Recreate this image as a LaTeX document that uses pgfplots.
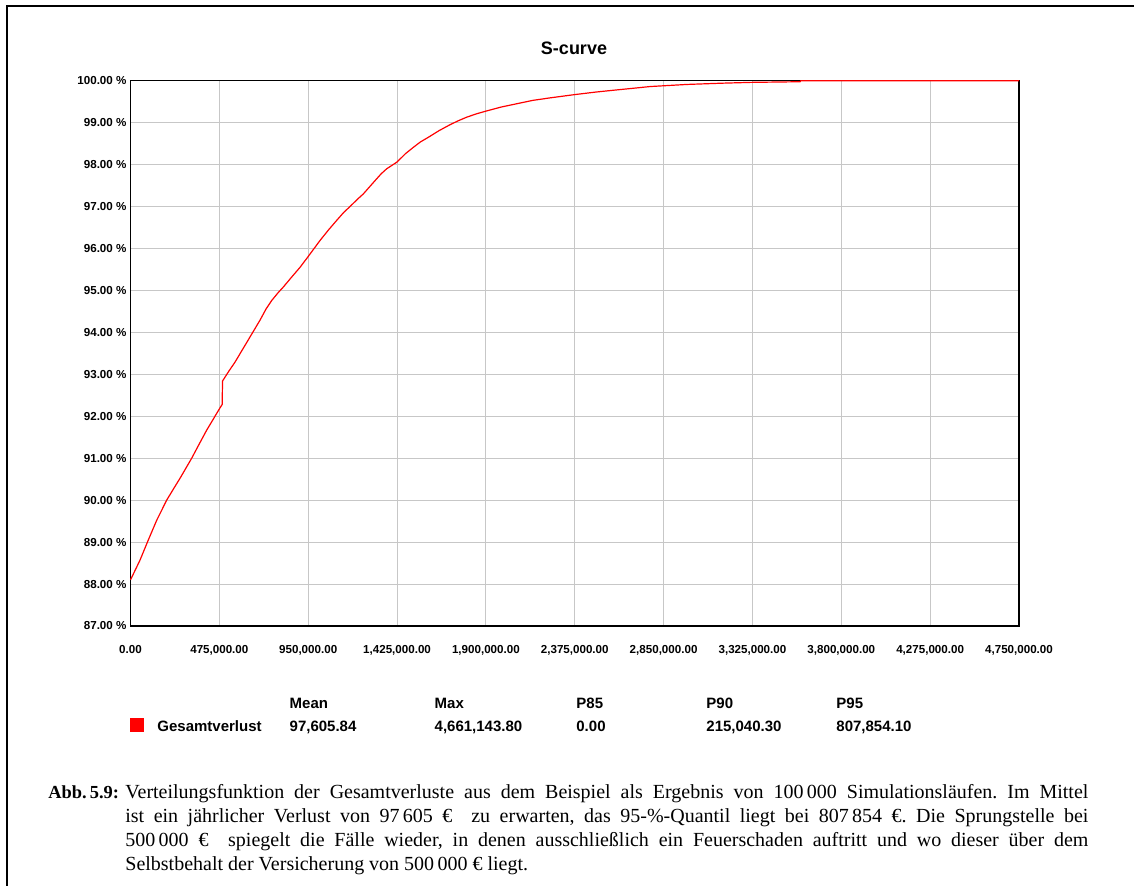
\documentclass[border=0pt]{standalone}
\usepackage{fontspec}
\setmainfont{Liberation Serif}
\newfontfamily\arial{Liberation Sans}
\usepackage{pgfplots}
\pgfplotsset{compat=1.18}
\begin{document}
\begin{tikzpicture}[x=1pt,y=1pt]
\path[use as bounding box] (0,0) rectangle (567,443);
\draw[line width=0.6pt] (3.5,0) -- (3.5,440) -- (567,440);
\begin{axis}[
  at={(65.25pt,130pt)}, anchor=south west,
  scale only axis, width=444.25pt, height=272.65pt,
  xmin=0, xmax=4750000, ymin=87, ymax=100,
  xtick={0,475000,950000,1425000,1900000,2375000,2850000,3325000,3800000,4275000,4750000},
  xticklabels={{0.00},{475,000.00},{950,000.00},{1,425,000.00},{1,900,000.00},{2,375,000.00},{2,850,000.00},{3,325,000.00},{3,800,000.00},{4,275,000.00},{4,750,000.00}},
  ytick={87,88,89,90,91,92,93,94,95,96,97,98,99,100},
  yticklabels={{87.00 \%},{88.00 \%},{89.00 \%},{90.00 \%},{91.00 \%},{92.00 \%},{93.00 \%},{94.00 \%},{95.00 \%},{96.00 \%},{97.00 \%},{98.00 \%},{99.00 \%},{100.00 \%}},
  grid=major, major grid style={draw=black!22, line width=0.5pt},
  major tick length=0pt,
  axis line style={line width=0.7pt},
  tick label style={font=\arial\bfseries\fontsize{5.8}{7}\selectfont},
  xticklabel style={yshift=-6pt},
  yticklabel style={xshift=1.5pt},
  scaled ticks=false,
  clip=false,
]
\addplot[red, line width=0.6pt] coordinates {
(0,88.10) (25000,88.33) (50800,88.57) (95200,89.05) (140000,89.52)
(193500,90.00) (230000,90.27) (264600,90.52) (327200,91.00) (370000,91.36) (407400,91.67) (445000,91.95) (478500,92.20)
(490000,92.28) (492000,92.84) (525000,93.07) (558700,93.29) (600000,93.60) (638900,93.89) (692300,94.29)
(725000,94.56) (754900,94.76) (790000,94.95) (816900,95.08) (860000,95.31) (906200,95.55) (945200,95.78) (1013100,96.19)
(1060000,96.45) (1102400,96.67) (1140000,96.86) (1173500,97.00) (1215000,97.18) (1244600,97.30) (1300000,97.58) (1340000,97.78) (1369700,97.90) (1424700,98.06)
(1470000,98.26) (1511900,98.41) (1550000,98.54) (1592100,98.65) (1650000,98.81) (1708100,98.95) (1750000,99.04) (1797400,99.13) (1850000,99.21) (1896800,99.27)
(1980000,99.37) (2064700,99.45) (2150000,99.53) (2242800,99.59) (2310000,99.63) (2377900,99.67) (2490000,99.73) (2599200,99.78) (2690000,99.82) (2777300,99.86)
(2973500,99.91) (3160600,99.94) (3321000,99.96) (3579000,99.975) (3584000,100)
(4750000,100)
};
\end{axis}
\node[font=\arial\bfseries\fontsize{9}{11}\selectfont] at (287,419) {S-curve};
\begin{scope}[every node/.style={font=\arial\bfseries\fontsize{7.5}{9}\selectfont, inner sep=0pt, anchor=base west}]
\node at (144.65,88.6) {Mean};
\node at (217.15,88.6) {Max};
\node at (288,88.6) {P85};
\node at (353,88.6) {P90};
\node at (418,88.6) {P95};
\node at (78.5,77) {Gesamtverlust};
\node at (144.65,77) {97,605.84};
\node at (217.15,77) {4,661,143.80};
\node at (288,77) {0.00};
\node at (353,77) {215,040.30};
\node at (418,77) {807,854.10};
\end{scope}
\fill[red] (65,77) rectangle (72,84);
\node[anchor=base west, inner sep=0pt] at (24,43.5) {\parbox[t]{520pt}{\fontsize{10}{12}\selectfont\frenchspacing\hangindent=38.5pt\hangafter=1\noindent\makebox[38.5pt][l]{\fontsize{9.2}{12}\selectfont\bfseries Abb.\,5.9:}Verteilungsfunktion der Gesamtverluste aus dem Beispiel als Ergebnis von 100\,000 Simulationsläufen. Im Mittel\linebreak ist ein jährlicher Verlust von 97\,605 €\ \ zu erwarten, das 95-\%-Quantil liegt bei 807\,854 €. Die Sprungstelle bei\linebreak 500\,000 €\ \ spiegelt die Fälle wieder, in denen ausschließlich ein Feuerschaden auftritt und wo dieser über dem\linebreak Selbstbehalt der Versicherung von 500\,000 € liegt.\par}};
\end{tikzpicture}
\end{document}
